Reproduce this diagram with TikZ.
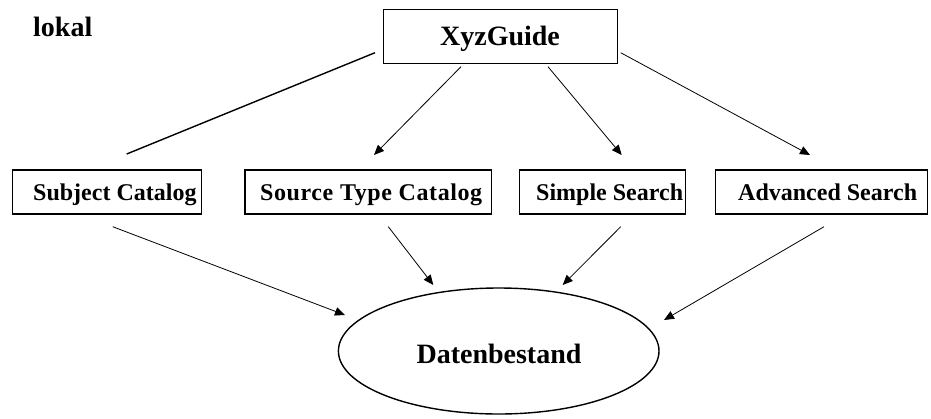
\documentclass[tikz,border=0pt]{standalone}
\usepackage{fontspec}
\setmainfont{Liberation Serif}
\usetikzlibrary{arrows.meta,shapes.geometric}
\begin{document}
\begin{tikzpicture}[x=1pt,y=-1pt,
  box/.style={draw=black,line width=1.2pt,rectangle,inner sep=0pt,anchor=north west},
  bigtxt/.style={font=\fontsize{28}{30}\selectfont\bfseries,inner sep=0pt},
  smalltxt/.style={font=\fontsize{24}{26}\selectfont\bfseries,inner sep=0pt,anchor=base west},
  arr/.style={draw=black,line width=0.8pt,-{Triangle[length=10pt,width=8.5pt]}},
  plain/.style={draw=black,line width=1.4pt}]
\useasboundingbox (0,0) rectangle (931,418);
\fill[white] (0,0) rectangle (931,418);

% title
\node[bigtxt,anchor=base west] (lokal) at (33,36) {lokal};

% top box
\node[box,minimum width=234pt,minimum height=54pt] (xyz) at (383,9) {};
\node[bigtxt,anchor=base] (xyzT) at (500,45) {XyzGuide};

% row of boxes
\node[box,minimum width=189.3pt,minimum height=44pt] (subj) at (11.7,169.3) {};
\node[smalltxt] (subjT) at (33,200) {Subject Catalog};

\node[box,minimum width=246.7pt,minimum height=44pt] (src) at (244.3,169.3) {};
\node[smalltxt] (srcT) at (260,200) {\addfontfeature{LetterSpace=2.5}Source Type Catalog};

\node[box,minimum width=166pt,minimum height=44pt] (simp) at (519,169.3) {};
\node[smalltxt] (simpT) at (536,200) {Simple Search};

\node[box,minimum width=212pt,minimum height=44pt] (adv) at (715,169.3) {};
\node[smalltxt] (advT) at (738,200) {Advanced Search};

% ellipse
\node[draw=black,line width=1.4pt,ellipse,inner sep=0pt,minimum width=320.6pt,minimum height=126pt] (db) at (498.7,351) {};
\node[bigtxt,anchor=base] (dbT) at (499,363) {Datenbestand};

% connector end points
\coordinate (c1a) at (375,52.7);   \coordinate (c1b) at (126.7,154);
\coordinate (c2a) at (461,66.7);   \coordinate (c2b) at (374,155);
\coordinate (c3a) at (548,66.7);   \coordinate (c3b) at (621.7,155);
\coordinate (c4a) at (620.7,52.7); \coordinate (c4b) at (810,155);
\coordinate (c5a) at (112.7,226.7); \coordinate (c5b) at (345,315);
\coordinate (c6a) at (388.3,226.7); \coordinate (c6b) at (433.3,285);
\coordinate (c7a) at (620.7,226.7); \coordinate (c7b) at (562.7,285);
\coordinate (c8a) at (824,226.7);  \coordinate (c8b) at (664,320);

\draw[plain] (c1a) -- (c1b);
\draw[arr] (c2a) -- (c2b);
\draw[arr] (c3a) -- (c3b);
\draw[arr] (c4a) -- (c4b);
\draw[arr] (c5a) -- (c5b);
\draw[arr] (c6a) -- (c6b);
\draw[arr] (c7a) -- (c7b);
\draw[arr] (c8a) -- (c8b);
\end{tikzpicture}
\end{document}
